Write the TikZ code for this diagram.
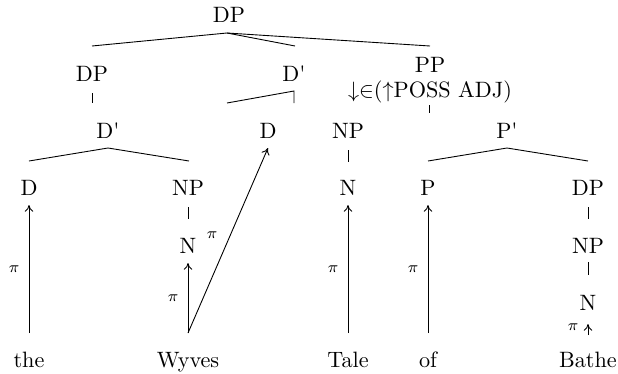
\documentclass[tikz,border=0pt]{standalone}
\usetikzlibrary{arrows.meta}
\begin{document}
\begin{tikzpicture}[x=0.45pt,y=-0.45pt,
  lab/.style={inner sep=0pt,anchor=base},
  pil/.style={inner sep=0pt,font=\scriptsize},
  br/.style={line width=0.4pt},
  proj/.style={line width=0.4pt,-{To[length=3pt,width=3.8pt]}}]
\useasboundingbox (0,0) rectangle (618,374);
% category nodes
\node[lab] (dp0) at (229,23) {DP};
\node[lab] (dp1) at (92,82) {DP};
\node[lab] (db1) at (294,82) {D\textquotesingle};
\node[lab] (pp1) at (430,73) {PP};
\node[lab] (ann) at (430,98) {${\downarrow}{\in}(\uparrow$POSS ADJ$)$};
\node[lab] (db2) at (108,138) {D\textquotesingle};
\node[lab] (d2) at (268,138) {D};
\node[lab] (np2) at (348,138) {NP};
\node[lab] (pb2) at (507,138) {P\textquotesingle};
\node[lab] (d3) at (29,195) {D};
\node[lab] (np3) at (188,195) {NP};
\node[lab] (n3) at (348,195) {N};
\node[lab] (p3) at (428,195) {P};
\node[lab] (dp3) at (588,195) {DP};
\node[lab] (n4) at (188,253) {N};
\node[lab] (np4) at (588,253) {NP};
\node[lab] (n5) at (588,310) {N};
% words
\node[lab] (w1) at (29,367) {the};
\node[lab] (w2) at (188,367) {Wyves};
\node[lab] (w3) at (348,367) {Tale};
\node[lab] (w4) at (428,367) {of};
\node[lab] (w5) at (588,367) {Bathe};
% tree branch points
\coordinate (a0) at (227,33);
\coordinate (e1) at (92,46);
\coordinate (e2) at (295,46);
\coordinate (e3) at (430,46);
\draw[br] (e1) -- (a0) -- (e3);
\draw[br] (a0) -- (e2);
\coordinate (u1t) at (92,93); \coordinate (u1b) at (92,103);
\draw[br] (u1t) -- (u1b);
\coordinate (a1) at (294,91); \coordinate (a1b) at (294,103);
\coordinate (e4) at (227,103);
\draw[br] (e4) -- (a1) -- (a1b);
\coordinate (u2t) at (429,105); \coordinate (u2b) at (429,113);
\draw[br] (u2t) -- (u2b);
\coordinate (a2) at (108,148);
\coordinate (e5) at (29,161); \coordinate (e6) at (189,161);
\draw[br] (e5) -- (a2) -- (e6);
\coordinate (u3t) at (348,150); \coordinate (u3b) at (348,162);
\draw[br] (u3t) -- (u3b);
\coordinate (a3) at (507,148);
\coordinate (e7) at (428,161); \coordinate (e8) at (588,161);
\draw[br] (e7) -- (a3) -- (e8);
\coordinate (u4t) at (188,207); \coordinate (u4b) at (188,219);
\draw[br] (u4t) -- (u4b);
\coordinate (u5t) at (588,207); \coordinate (u5b) at (588,219);
\draw[br] (u5t) -- (u5b);
\coordinate (u6t) at (588,262); \coordinate (u6b) at (588,275);
\draw[br] (u6t) -- (u6b);
% projection arrows
\coordinate (s1) at (29,333);  \coordinate (t1) at (29,205);
\coordinate (s2) at (188,333); \coordinate (t2) at (188,263);
\coordinate (t2b) at (268,148);
\coordinate (s3) at (348,333); \coordinate (t3) at (348,205);
\coordinate (s4) at (428,333); \coordinate (t4) at (428,205);
\coordinate (s5) at (588,335); \coordinate (t5) at (588,324);
\draw[proj] (s1) -- (t1);
\draw[proj] (s2) -- (t2);
\draw[proj] (s2) -- (t2b);
\draw[proj] (s3) -- (t3);
\draw[proj] (s4) -- (t4);
\draw[proj] (s5) -- (t5);
% pi labels
\node[pil] (p1) at (14,269) {$\pi$};
\node[pil] (p2) at (173,298) {$\pi$};
\node[pil] (p2b) at (212,235) {$\pi$};
\node[pil] (p3l) at (333,269) {$\pi$};
\node[pil] (p4l) at (413,269) {$\pi$};
\node[pil] (p5l) at (573,327) {$\pi$};
\end{tikzpicture}
\end{document}
